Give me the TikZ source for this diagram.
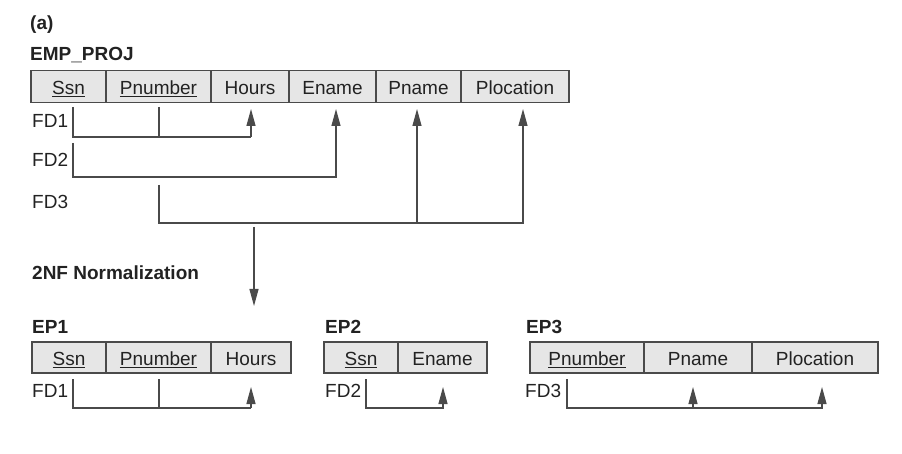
\documentclass[tikz,border=0pt]{standalone}
\usepackage{fontspec}
\setmainfont{Liberation Sans}
\usetikzlibrary{arrows.meta}
\definecolor{linec}{HTML}{4A4A4A}
\definecolor{cellfill}{HTML}{E6E6E6}
\definecolor{txt}{HTML}{222222}
\begin{document}
\begin{tikzpicture}[x=1pt,y=-1pt,
  every node/.style={text=txt,font=\fontsize{19}{22}\selectfont},
  cell/.style={draw=linec,line width=1.2pt,fill=cellfill,inner sep=0pt,minimum height=31.5pt,text height=15.6pt,text depth=0pt,anchor=center},
  lbl/.style={anchor=west,inner sep=0pt},
  ttl/.style={anchor=west,inner sep=0pt,font=\fontsize{19}{22}\selectfont\bfseries},
  fd/.style={draw=linec,line width=1.2pt},
  fda/.style={draw=linec,line width=1.2pt,-{Triangle[length=17pt,width=9pt]}}]
\useasboundingbox (0,0) rectangle (902,454);
\newcommand{\ulx}[1]{\underline{#1}}
% titles
\node[ttl] (ta) at (30,25) {(a)};
\node[ttl] (temp) at (30,55) {EMP\_PROJ};
\node[ttl] (tnorm) at (32,273) {2NF Normalization};
\node[ttl] (tep1) at (32,327) {EP1};
\node[ttl] (tep2) at (325,327) {EP2};
\node[ttl] (tep3) at (526,327) {EP3};
% EMP_PROJ cells
\node[cell,minimum width=75pt] (ssn) at (68.5,86.4) {\ulx{Ssn}};
\node[cell,minimum width=105pt] (pnum) at (158.5,86.4) {\ulx{Pnumber}};
\node[cell,minimum width=78pt] (hours) at (250,86.4) {Hours};
\node[cell,minimum width=87pt] (ename) at (332.5,86.4) {Ename};
\node[cell,minimum width=85pt] (pname) at (418.5,86.4) {Pname};
\node[cell,minimum width=108pt] (ploc) at (515,86.4) {Plocation};
% FD labels
\node[lbl] (fd1) at (32,121) {FD1};
\node[lbl] (fd2) at (32,160) {FD2};
\node[lbl] (fd3) at (32,202) {FD3};
% FD1
\coordinate (a1) at (73,107);
\coordinate (a2) at (159,107);
\coordinate (a3) at (251,109);
\draw[fd] (a1) |- (73,137) -- (251,137);
\draw[fd] (a2) -- (159,137);
\draw[fda] (251,137) -- (a3);
% FD2
\coordinate (b1) at (73,143);
\coordinate (b2) at (336,109);
\draw[fda] (b1) |- (336,177) -- (b2);
% FD3
\coordinate (c1) at (159,185);
\coordinate (c2) at (417,109);
\coordinate (c3) at (523,109);
\draw[fda] (c1) |- (523,223) -- (c3);
\draw[fda] (417,223) -- (c2);
% normalization arrow
\coordinate (d1) at (254,227);
\coordinate (d2) at (254,306);
\draw[fda] (d1) -- (d2);
% EP1
\node[cell,minimum width=74pt,minimum height=31pt] (essn) at (69,357.5) {\ulx{Ssn}};
\node[cell,minimum width=105pt,minimum height=31pt] (epnum) at (158.5,357.5) {\ulx{Pnumber}};
\node[cell,minimum width=80pt,minimum height=31pt] (ehours) at (251,357.5) {Hours};
\node[lbl] (efd1) at (32,391) {FD1};
\coordinate (e1) at (73,379);
\coordinate (e2) at (159,379);
\coordinate (e3) at (251,387);
\draw[fd] (e1) |- (251,408);
\draw[fd] (e2) -- (159,408);
\draw[fda] (251,408) -- (e3);
% EP2
\node[cell,minimum width=74pt,minimum height=31pt] (fssn) at (361,357.5) {\ulx{Ssn}};
\node[cell,minimum width=89pt,minimum height=31pt] (fename) at (442.5,357.5) {Ename};
\node[lbl] (ffd2) at (325,391) {FD2};
\coordinate (f1) at (366,379);
\coordinate (f2) at (443,387);
\draw[fda] (f1) |- (443,408) -- (f2);
% EP3
\node[cell,minimum width=114pt,minimum height=31pt] (gpnum) at (587,357.5) {\ulx{Pnumber}};
\node[cell,minimum width=108pt,minimum height=31pt] (gpname) at (698,357.5) {Pname};
\node[cell,minimum width=126pt,minimum height=31pt] (gploc) at (815,357.5) {Plocation};
\node[lbl] (gfd3) at (525,391) {FD3};
\coordinate (g1) at (567,379);
\coordinate (g2) at (693,387);
\coordinate (g3) at (822,387);
\draw[fda] (g1) |- (822,408) -- (g3);
\draw[fda] (693,408) -- (g2);
\end{tikzpicture}
\end{document}
